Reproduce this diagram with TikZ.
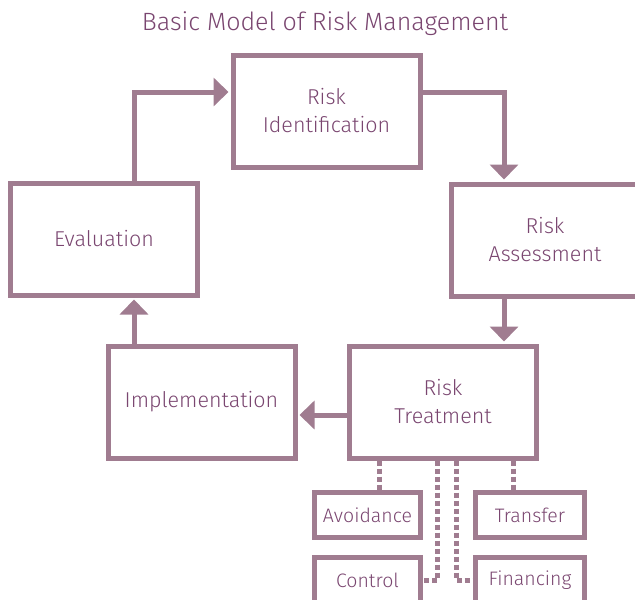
\documentclass[tikz,border=0pt]{standalone}
\usepackage{fontspec}
\IfFontExistsTF{Fira Sans Light}{\setmainfont{Fira Sans Light}}{\setmainfont{Fira Sans}}
\usetikzlibrary{%
    arrows.meta,
    positioning
}
\definecolor{boxline}{RGB}{160,124,144}
\definecolor{boxtext}{RGB}{122,70,112}
\tikzset{headarrow/.style = {-{Triangle[length=15pt,width=28pt]}, shorten >=2pt}}
\tikzset{riskbox/.style = {draw=boxline, line width=5pt, minimum width=187pt, minimum height=112pt,
        align=center, text=boxtext, font=\fontsize{21.5}{28}\selectfont}}
\tikzset{optbox/.style = {riskbox, minimum width=106pt, minimum height=45pt, font=\fontsize{19.5}{22}\selectfont}}
\tikzset{dotline/.style = {draw=boxline, line width=5pt, dash pattern=on 5pt off 3pt}}

\begin{document}
\begin{tikzpicture}[x=1pt, y=-1pt, line width=5pt, draw=boxline]
    \useasboundingbox (0,0) rectangle (635,600);
    \clip (0,0) rectangle (635,600);

    % title
    \node[text=boxtext, font=\fontsize{25}{28}\selectfont] (title) at (325,24) {Basic Model of Risk Management};

    % main cycle
    \node[riskbox] (ident)  at (326.5,111) {Risk\\Identification};
    \node[riskbox] (assess) at (545,240)   {Risk\\Assessment};
    \node[riskbox] (eval)   at (104,239)   {Evaluation};
    \node[riskbox] (treat)  at (443,402)   {Risk\\Treatment};
    \node[riskbox] (impl)   at (201.5,402) {Implementation};

    % treatment options
    \node[optbox] (avoid)     at (367.5,515) {Avoidance};
    \node[optbox, minimum width=109pt] (transfer)  at (530,515) {Transfer};
    \node[optbox] (control)   at (367.5,580) {Control};
    \node[optbox, minimum width=109pt] (financing) at (530,580) {Financing};

    % edges
    \draw[headarrow, boxline] ([xshift=30pt]eval.north) |- ([yshift=19pt]ident.west);
    \draw[headarrow, boxline] ([yshift=19pt]ident.east) -| ([xshift=-41pt]assess.north);
    \draw[headarrow, boxline] ([xshift=-41pt]assess.south) -- ([xshift=-41pt]assess.south |- treat.north);
    \draw[headarrow, boxline] ([yshift=-13pt]treat.west) -- ([yshift=-13pt]treat.west -| impl.east);
    \draw[headarrow, boxline] ([xshift=30pt]eval.south |- impl.north) -- ([xshift=30pt]eval.south);

    % dotted links
    \draw[dotline] ([xshift=-64pt]treat.south) -- ([xshift=-64pt]treat.south |- avoid.north);
    \draw[dotline] ([xshift=70pt]treat.south) -- ([xshift=70pt]treat.south |- transfer.north);
    \draw[dotline] ([xshift=-6pt]treat.south) |- (control.east);
    \draw[dotline] ([xshift=13pt]treat.south) |- (financing.west);
\end{tikzpicture}
\end{document}
